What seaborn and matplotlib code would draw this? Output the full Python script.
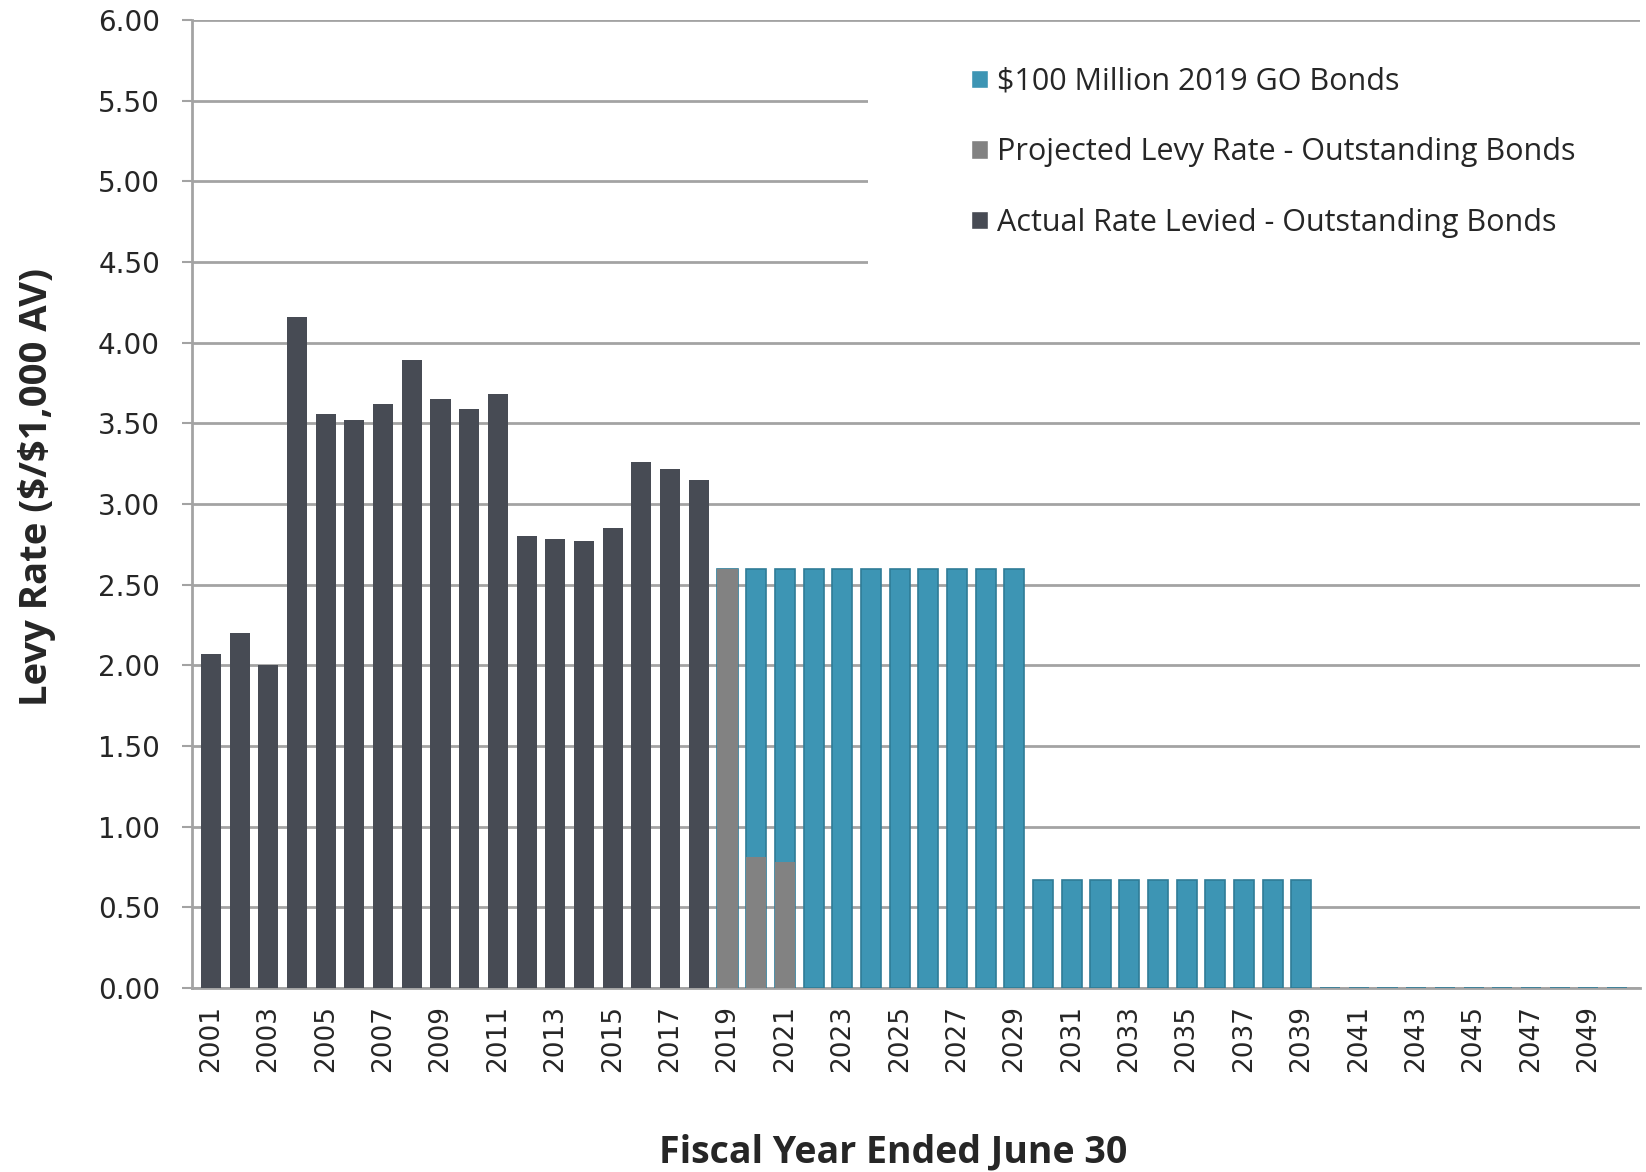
import numpy as np
import pandas as pd
import matplotlib
matplotlib.use('Agg')
import matplotlib.pyplot as plt
import seaborn as sns
from matplotlib.patches import Patch, Rectangle

# data
years = list(range(2001, 2051))
actual = [2.07, 2.20, 2.00, 4.16, 3.56, 3.52, 3.62, 3.89, 3.65, 3.59,
          3.68, 2.80, 2.78, 2.77, 2.85, 3.26, 3.22, 3.15] + [0.0] * 32
projected = [0.0] * 18 + [2.60, 0.81, 0.78] + [0.0] * 29
go_2019 = [0.0] * 19 + [1.79, 1.82] + [2.60] * 8 + [0.67] * 10 + [0.0] * 11

ytick_vals = [0, 0.5, 1, 1.5, 2, 2.5, 3, 3.5, 4, 4.5, 5, 5.5, 6]
label_years = list(range(2001, 2051, 2))

legend_labels = ['$100 Million 2019 GO Bonds',
                 'Projected Levy Rate - Outstanding Bonds',
                 'Actual Rate Levied - Outstanding Bonds']

c_blue = '#3D95B4'
c_gray = '#828282'
c_dark = '#474B54'

df = pd.DataFrame({'year': years, 'actual': actual,
                   'projected': projected, 'go': go_2019})
df['proj_total'] = df['projected'] + df['go']

sns.set_style('white')
plt.rcParams['font.family'] = ['DejaVu Sans']

W, H = 1646, 1172
fig = plt.figure(figsize=(W / 100, H / 100), dpi=100)
ax = fig.add_axes([192 / W, 1 - 988 / H, (1640 - 192) / W, (988 - 20) / H])

# stacked: draw totals first, then the lower segment on top
sns.barplot(data=df, x='year', y='proj_total', color=c_blue, saturation=1,
            width=0.7, edgecolor='#2F7C97', linewidth=1.2, ax=ax, zorder=3)
sns.barplot(data=df, x='year', y='projected', color=c_gray, saturation=1,
            width=0.7, linewidth=0, ax=ax, zorder=4)
sns.barplot(data=df, x='year', y='actual', color=c_dark, saturation=1,
            width=0.7, linewidth=0, ax=ax, zorder=4)

ax.set_ylim(0, 6)
ax.set_xlim(-0.66, 49.8)
ax.set_yticks(ytick_vals)
ax.set_yticklabels([f'{v:.2f}' for v in ytick_vals], fontsize=20)
ax.yaxis.grid(True, color='#A3A3A3', linewidth=2, zorder=0)
ax.set_axisbelow(True)

pos = [years.index(y) for y in label_years]
ax.set_xticks(pos)
ax.set_xticklabels([str(y) for y in label_years], rotation=90, fontsize=19)
ax.set_xticks(np.arange(-0.5, len(years), 2), minor=True)
ax.tick_params(axis='x', which='major', length=0, pad=12)
ax.tick_params(axis='x', which='minor', length=8, width=1.5, color='#A3A3A3')
ax.tick_params(axis='y', length=7, width=1.5, color='#A3A3A3', pad=16, left=True)
ax.set_xlabel('')
ax.set_ylabel('')

for side in ['top', 'right']:
    ax.spines[side].set_visible(False)
for side in ['left', 'bottom']:
    ax.spines[side].set_color('#A3A3A3')
    ax.spines[side].set_linewidth(2)

# white legend area covering the gridlines
fig.patches.append(Rectangle((868 / W, 1 - 290 / H), (W - 868) / W, (290 - 36) / H,
                             transform=fig.transFigure, facecolor='white',
                             edgecolor='none', zorder=2))

handles = [Patch(facecolor=c) for c in [c_blue, c_gray, c_dark]]
leg = fig.legend(handles, legend_labels, loc='upper left',
                 bbox_to_anchor=(971 / W, 1 - 67 / H), frameon=False,
                 prop={'family': 'Open Sans', 'size': 22},
                 handlelength=0.55, handleheight=0.55, handletextpad=0.3,
                 labelspacing=1.32, borderpad=0, borderaxespad=0)
leg.set_zorder(5)

fig.text(37 / W, 1 - 487 / H, 'Levy Rate (\\$/\\$1,000 AV)', rotation=90,
         ha='center', va='center', fontsize=27.5, fontweight='bold',
         family='Open Sans')
fig.text(893 / W, 1 - 1152 / H, 'Fiscal Year Ended June 30',
         ha='center', va='center', fontsize=27, fontweight='bold',
         family='Open Sans')

fig.savefig('out.png', dpi=100)
